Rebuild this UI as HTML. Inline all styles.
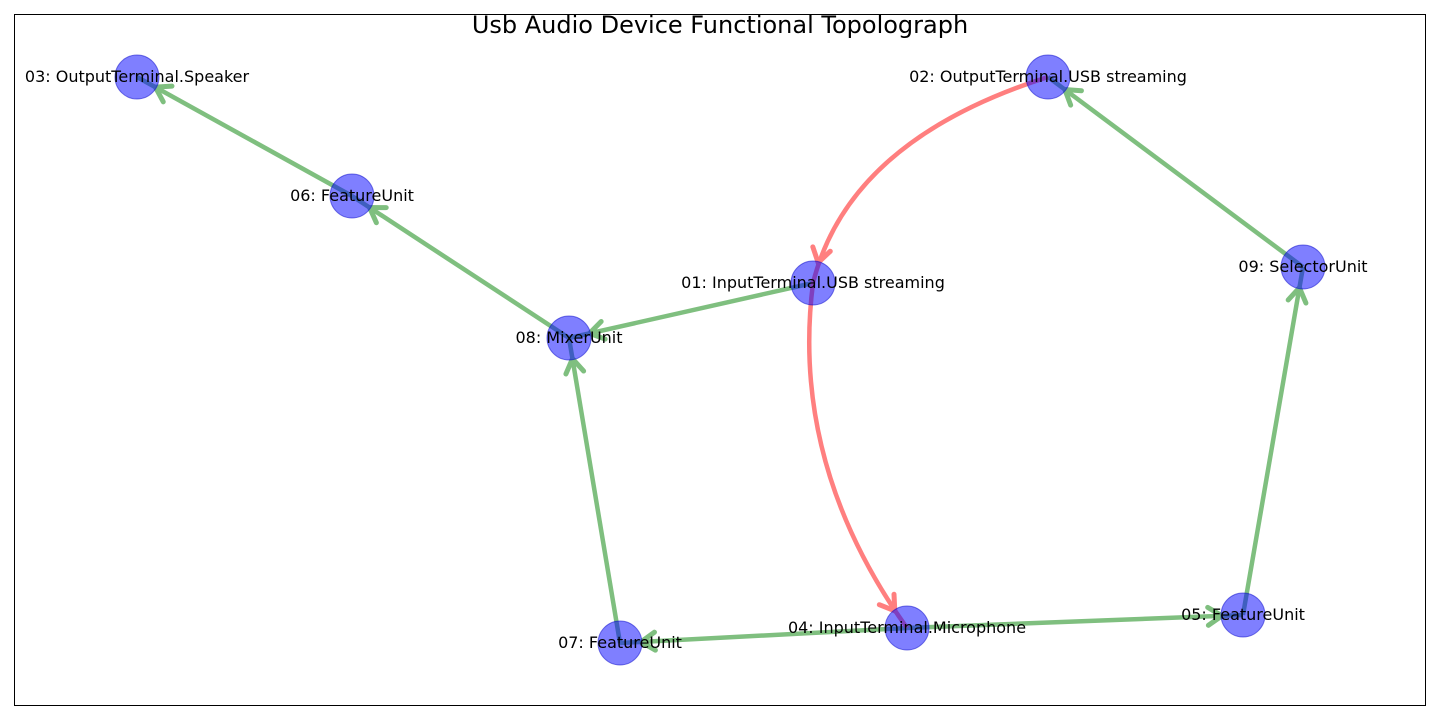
<!DOCTYPE html>
<html><head><meta charset="utf-8"><style>
body{margin:0;background:#fff;}
svg{display:block;font-family:"DejaVu Sans","Liberation Sans",sans-serif;}
</style></head><body>
<svg id="s" width="1440" height="720" xmlns="http://www.w3.org/2000/svg">
<defs>
<marker id="g" markerUnits="userSpaceOnUse" markerWidth="80" markerHeight="80" refX="61" refY="40" orient="auto" viewBox="0 0 80 80">
<path d="M26,31 L40,40 L26,49" fill="none" stroke="#7fbf7f" stroke-width="5" stroke-linecap="round"/>
</marker>
<marker id="r" markerUnits="userSpaceOnUse" markerWidth="80" markerHeight="80" refX="61" refY="40" orient="auto" viewBox="0 0 80 80">
<path d="M26,31 L40,40 L26,49" fill="none" stroke="#ff7f7f" stroke-width="5" stroke-linecap="round"/>
</marker>
</defs>
<rect x="14.5" y="14.5" width="1411" height="691" fill="none" stroke="#000" stroke-width="1"/>
<text x="720" y="33" font-size="24" text-anchor="middle">Usb Audio Device Functional Topolograph</text>
<g id="e"></g>
<path d="M1048,77 Q849,140 813,283" fill="none" stroke="#ff7f7f" stroke-width="4.5" marker-end="url(#r)"/>
<path d="M813,283 Q790,464 907,628" fill="none" stroke="#ff7f7f" stroke-width="4.5" marker-end="url(#r)"/>
<g id="n"></g>
<g id="l" font-size="16" text-anchor="middle"></g>
</svg>
<script>
var N={'03':[137,77,'03: OutputTerminal.Speaker'],'06':[352,196,'06: FeatureUnit'],'08':[569,338,'08: MixerUnit'],
'01':[813,283,'01: InputTerminal.USB streaming'],'02':[1048,77,'02: OutputTerminal.USB streaming'],
'09':[1303,267,'09: SelectorUnit'],'05':[1243,615,'05: FeatureUnit'],'04':[907,628,'04: InputTerminal.Microphone'],
'07':[620,643,'07: FeatureUnit']};
var E=[['06','03'],['08','06'],['01','08'],['07','08'],['04','07'],['04','05'],['05','09'],['09','02']];
var ns='http://www.w3.org/2000/svg';
function el(t,a,p){var x=document.createElementNS(ns,t);for(var k in a)x.setAttribute(k,a[k]);document.getElementById(p).appendChild(x);return x;}
E.forEach(function(e){var a=N[e[0]],b=N[e[1]];
el('line',{x1:a[0],y1:a[1],x2:b[0],y2:b[1],stroke:'#7fbf7f','stroke-width':4.5,'marker-end':'url(#g)'},'e');});
for(var k in N){var v=N[k];
el('circle',{cx:v[0],cy:v[1],r:22,fill:'rgba(0,0,255,0.5)',stroke:'rgba(0,0,200,0.5)','stroke-width':1},'n');
var t=el('text',{x:v[0],y:v[1]+5},'l');t.textContent=v[2];}
</script>
</body></html>
